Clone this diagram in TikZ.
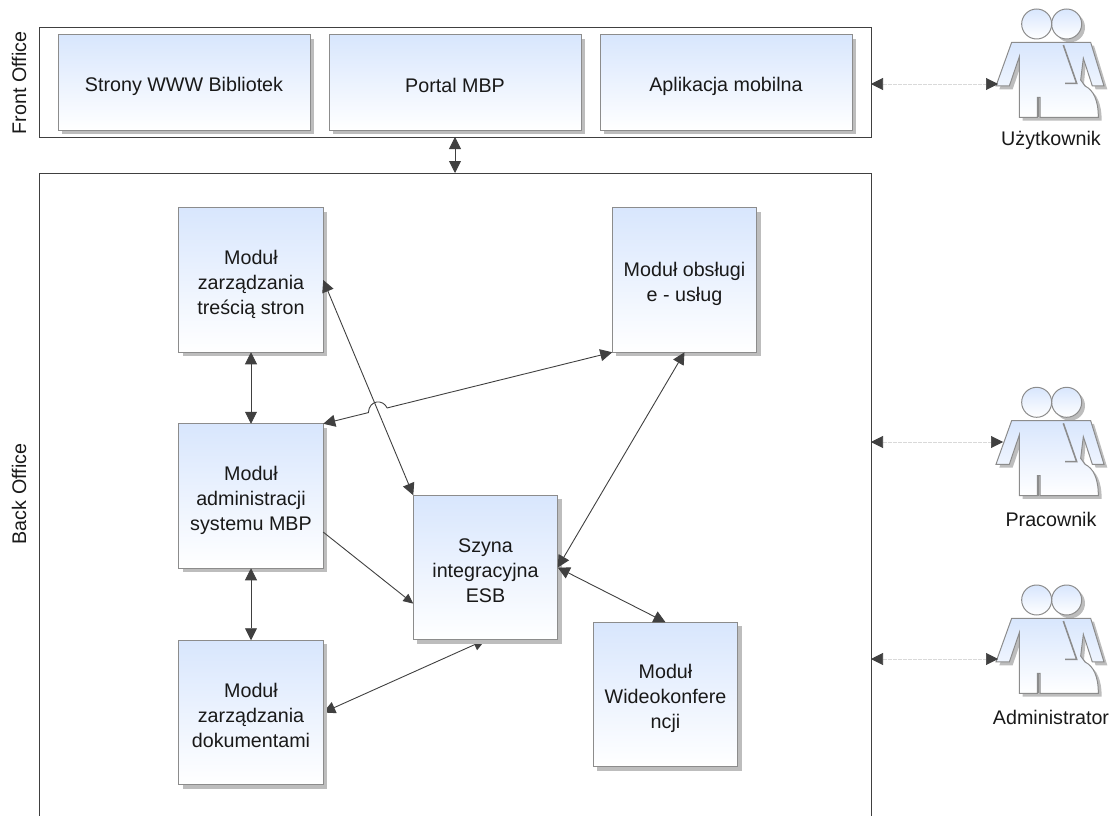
\documentclass[tikz,border=0pt]{standalone}
\usepackage{fontspec}
\setmainfont{Liberation Sans}
\usetikzlibrary{arrows.meta,calc,shadows,backgrounds}
\definecolor{boxblue}{HTML}{D8E6FD}
\definecolor{edgegray}{HTML}{8C8C8C}
\definecolor{shadowgray}{HTML}{BDBDBD}
\definecolor{linegray}{HTML}{404040}
\newcommand\ta{\rule{0pt}{22.5pt}}
\newcommand\tb{\rule[-3pt]{0pt}{3pt}}
\tikzset{
  lbl/.style={font=\fontsize{19.7}{25}\selectfont,text=black!90,align=center,inner sep=0pt},
  frame/.style={draw=linegray,line width=1pt,rectangle,anchor=north west,inner sep=0pt,outer sep=0pt},
  modbox/.style={rectangle,draw=edgegray,line width=1pt,top color=boxblue,bottom color=white,
    inner sep=0pt,outer sep=0pt,align=center,font=\fontsize{19.7}{25}\selectfont,text=black!90,
    drop shadow={shadow xshift=4pt,shadow yshift=-4pt,fill=shadowgray,opacity=1}},
  wide/.style={minimum width=252pt,minimum height=95pt},
  square/.style={minimum width=144.5pt,minimum height=144.5pt},
  arw/.style={draw=linegray,line width=0.9pt,
    {Triangle[length=12pt,width=12pt,color=linegray]}-{Triangle[length=12pt,width=12pt,color=linegray]}},
  oneway/.style={draw=linegray,line width=0.9pt,-{Triangle[length=10pt,width=9pt,color=linegray]}},
  faint/.style={draw=black!15,line width=0.6pt,dash pattern=on 4pt off 1pt,
    {Triangle[length=12pt,width=12pt,color=linegray]}-{Triangle[length=12pt,width=12pt,color=linegray]}},
  pers/.style={top color=boxblue,bottom color=white,draw=edgegray,line width=1pt},
  person/.pic={
    \begin{scope}[x=0.3333pt,y=-0.3333pt]
      \fill[shadowgray] (165,137)--(402,137)--(442,268)--(407,268)--(378,185)--(372,250)--(385,268)
        .. controls (410,280) and (425,310) .. (425,362)--(188,362)--(188,180)--(158,268)--(118,268)--cycle;
      \fill[shadowgray] (330,82) circle[radius=45];
      \path[pers] (320,72) circle[radius=45];
      \path[pers] (155,127)--(392,127)--(432,258)--(397,258)--(370,175)--(362,240)--(375,258)
        .. controls (400,270) and (415,300) .. (415,352)--(240,352)--(240,292)--(232,292)--(232,352)
        --(178,352)--(178,170)--(148,258)--(108,258)--cycle;
      \path[pers] (230,72) circle[radius=45];
      \draw[edgegray,line width=1.6pt] (310,135)--(350,250)--(315,250);
      \draw[edgegray,line width=1.4pt] (236,292)--(236,352);
      \draw[edgegray,line width=1.4pt] (178,170)--(178,352);
    \end{scope}
  }
}
\begin{document}
\begin{tikzpicture}[x=1pt,y=-1pt]
  \useasboundingbox (0,0) rectangle (1113,816);

  \node[frame,minimum width=832pt,minimum height=109pt] (front) at (39,28) {};
  \node[frame,minimum width=832pt,minimum height=665pt] (back) at (39,173) {};

  \node[lbl,rotate=90] (lf) at (19,83) {Front Office};
  \node[lbl,rotate=90] (lb) at (19,494) {Back Office};

  \node[modbox,wide] (www) at (184,82.5) {\ta Strony WWW Bibliotek\tb};
  \node[modbox,wide] (portal) at (455,82.5) {\ta Portal MBP\tb};
  \node[modbox,wide] (app) at (726,82.5) {\ta Aplikacja mobilna\tb};

  \node[modbox,square] (tresc) at (251,280) {\ta Moduł\\zarządzania\\treścią stron\tb};
  \node[modbox,square] (uslugi) at (684.5,280) {\ta Moduł obsługi\\e - usług\tb};
  \node[modbox,square] (admin) at (251,496) {\ta Moduł\\administracji\\systemu MBP\tb};
  \node[modbox,square] (esb) at (485.5,567.5) {\ta Szyna\\integracyjna\\ESB\tb};
  \node[modbox,square] (wideo) at (665.5,694.5) {\ta Moduł\\Wideokonfere\\ncji\tb};
  \node[modbox,square] (dok) at (251,712.5) {\ta Moduł\\zarządzania\\dokumentami\tb};

  \pic at (960,0) {person};
  \pic at (960,378.3) {person};
  \pic at (960,576) {person};

  \node[lbl] (uz) at (1051,140) {Użytkownik};
  \node[lbl] (pr) at (1051,519) {Pracownik};
  \node[lbl] (ad) at (1051,717) {Administrator};

  \coordinate (puz) at (998,84);
  \coordinate (ppr) at (1003,442);
  \coordinate (pad) at (998,659);

  \draw[faint] (front.east |- puz) -- (puz);
  \draw[faint] (back.east |- ppr) -- (ppr);
  \draw[faint] (back.east |- pad) -- (pad);

  \draw[arw] (portal.south |- front.south) -- (portal.south |- back.north);
  \draw[arw] (tresc.south) -- (admin.north);
  \draw[arw] (admin.south) -- (dok.north);
  \draw[arw] (tresc.east) -- (esb.north west);
  \coordinate (j1) at ($(uslugi.south west)!.779!(admin.north east)$);
  \coordinate (j2) at ($(uslugi.south west)!.844!(admin.north east)$);
  \draw[arw] (uslugi.south west) -- (j1) .. controls +(-4,-9) and +(1,-13) .. (j2) -- (admin.north east);
  \draw[arw] (uslugi.south) -- (esb.east);
  \draw[arw] (esb.east) -- (wideo.north);
  \begin{scope}[on background layer]
    \draw[arw] (dok.east) -- (esb.south);
  \end{scope}
  \draw[oneway] ($(admin.south east)!.25!(admin.north east)$) -- ($(esb.south west)!.25!(esb.north west)$);
\end{tikzpicture}
\end{document}
